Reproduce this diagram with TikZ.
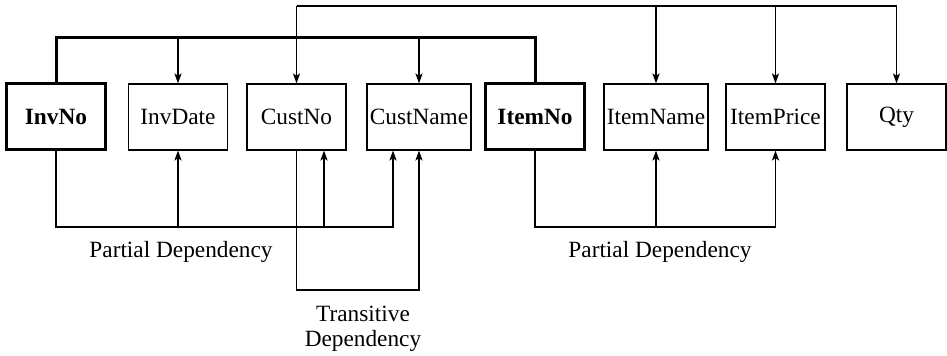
\documentclass[tikz,border=0pt]{standalone}
\usepackage{fontspec}
\setmainfont{Liberation Serif}
\usetikzlibrary{arrows.meta,calc}
\begin{document}
\begin{tikzpicture}[x=0.5pt,y=-0.5pt,
  txt/.style={font=\fontsize{11.65}{12.5}\selectfont},
  attr/.style={txt, draw, line width=0.6pt, minimum width=49.5pt, minimum height=33pt, inner sep=0pt},
  keyattr/.style={attr, line width=1.5pt, font=\fontsize{11.65}{12.5}\selectfont\bfseries},
  link/.style={line width=0.6pt},
  dep/.style={link, -{Stealth[length=5pt,width=3.6pt,inset=1.2pt]}},
  keybus/.style={line width=1.5pt},
  lbl/.style={txt, align=center, inner sep=0pt}]
\useasboundingbox (0,0) rectangle (947,356);

% attribute boxes
\node[keyattr] (invno) at (56,117) {InvNo};
\node[attr] (invdate) at (178,117) {InvDate};
\node[attr] (custno) at (296.5,117) {CustNo};
\node[attr, minimum width=52pt] (custname) at (419,117) {CustName};
\node[keyattr] (itemno) at (535,117) {ItemNo};
\node[attr, minimum width=52pt] (itemname) at (656,117) {ItemName};
\node[attr] (itemprice) at (775.5,117) {ItemPrice};
\node[attr] (qty) at (896.5,117) {Qty};

% levels of the horizontal runs
\coordinate (topbus) at (0,6);
\coordinate (keyrun) at (0,38);
\coordinate (pdrun) at (0,227);
\coordinate (tdrun) at (0,290);

% secondary entry points on box edges
\coordinate (cnoR) at ($(custno.south)+(27.5,0)$);
\coordinate (cnL) at ($(custname.south)+(-26,0)$);

% composite key bus
\draw[keybus] (invno.north) |- (itemno.north |- keyrun) -- (itemno.north);
\draw[dep] (invdate.north |- keyrun) -- (invdate.north);
\draw[dep] (custname.north |- keyrun) -- (custname.north);

% full dependency line
\draw[link] (custno.north |- topbus) -- (qty.north |- topbus);
\draw[dep] (custno.north |- topbus) -- (custno.north);
\draw[dep] (itemname.north |- topbus) -- (itemname.north);
\draw[dep] (itemprice.north |- topbus) -- (itemprice.north);
\draw[dep] (qty.north |- topbus) -- (qty.north);

% partial dependency on InvNo
\draw[dep] (invno.south) |- (cnL |- pdrun) -- (cnL);
\draw[dep] (invdate.south |- pdrun) -- (invdate.south);
\draw[dep] (cnoR |- pdrun) -- (cnoR);

% transitive dependency
\draw[dep] (custno.south) |- (custname.south |- tdrun) -- (custname.south);

% partial dependency on ItemNo
\draw[dep] (itemno.south) |- (itemprice.south |- pdrun) -- (itemprice.south);
\draw[dep] (itemname.south |- pdrun) -- (itemname.south);

% labels
\node[lbl] (pd1) at (181,252) {Partial Dependency};
\node[lbl] (pd2) at (660,252) {Partial Dependency};
\node[lbl] (td) at (363,329) {Transitive\\Dependency};
\end{tikzpicture}
\end{document}
